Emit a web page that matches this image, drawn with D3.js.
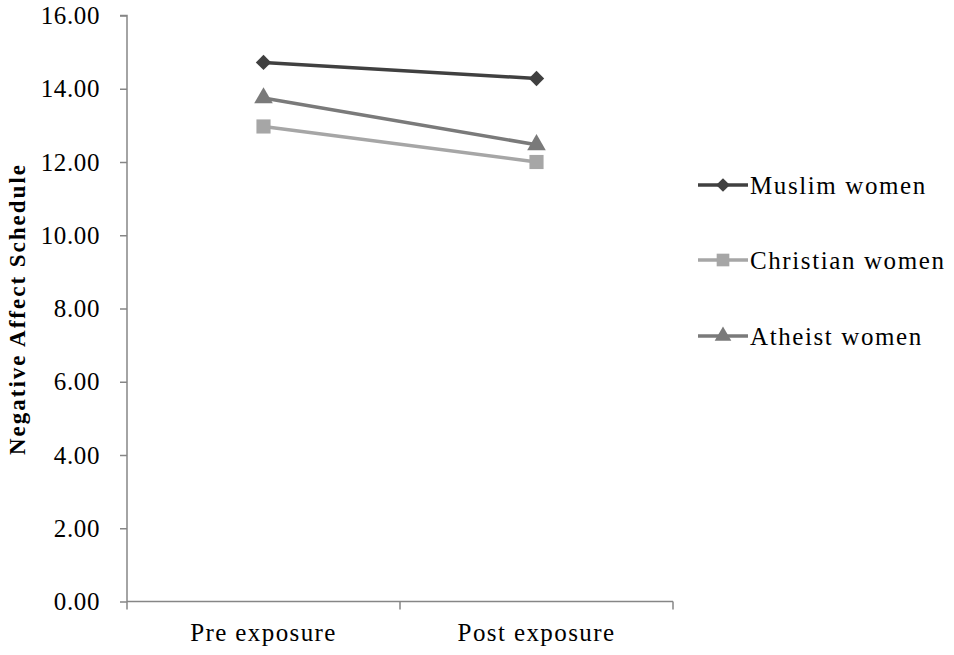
<!DOCTYPE html>
<html><head><meta charset="utf-8">
<script src="https://cdn.jsdelivr.net/npm/d3@7"></script>
<style>body{margin:0;background:#fff}svg{display:block}text{font-family:"Liberation Serif","Times New Roman",serif;fill:#000}</style>
</head><body><svg id="c" width="954" height="655"></svg>
<script>
const categories = ["Pre exposure", "Post exposure"];
const seriesNames = ["Muslim women", "Christian women", "Atheist women"];
const muslim = [14.72, 14.28];
const christian = [12.97, 12.0];
const atheist = [13.75, 12.47];
const yTicks = [0, 2, 4, 6, 8, 10, 12, 14, 16];
const yTitle = "Negative Affect Schedule";

(function () {
const series = [
  {name: seriesNames[0], values: muslim, color: "#404040", sym: d3.symbolDiamond2, size: 150},
  {name: seriesNames[1], values: christian, color: "#a6a6a6", sym: d3.symbolSquare, size: 200},
  {name: seriesNames[2], values: atheist, color: "#7a7a7a", sym: d3.symbolTriangle, size: 150}
];

const svg = d3.select("#c");
const mLeft = 127, mRight = 673, mTop = 15.5, mBottom = 601.5;
const x = d3.scaleBand().domain(categories).range([mLeft, mRight]);
const y = d3.scaleLinear().domain([0, 16]).range([mBottom, mTop]);

const axisColor = "#868686";
const ya = svg.append("g").attr("transform", `translate(${mLeft},0)`)
  .call(d3.axisLeft(y).tickValues(yTicks).tickFormat(d3.format(".2f")).tickSize(7).tickPadding(20));
ya.select(".domain").attr("stroke", axisColor).attr("stroke-width", 1.5).attr("d", `M-7,${mTop}H0V${mBottom}`);
ya.selectAll(".tick line").attr("stroke", axisColor).attr("stroke-width", 1.5);
ya.selectAll(".tick text").attr("font-size", 25).attr("font-family", "Liberation Serif").attr("fill", "#000").attr("letter-spacing", 0.6);

const xa = svg.append("g").attr("transform", `translate(0,${mBottom})`)
  .call(d3.axisBottom(x).tickSize(0).tickPadding(22));
xa.select(".domain").attr("stroke", axisColor).attr("stroke-width", 1.5).attr("d", `M${mLeft},0H${mRight}`);
xa.selectAll(".tick text").attr("font-size", 25).attr("font-family", "Liberation Serif").attr("fill", "#000").attr("letter-spacing", 1.4);
const xt = x.domain().map(d => x(d)).concat([mRight]);
svg.append("g").selectAll("line").data(xt).join("line")
  .attr("x1", d => d).attr("x2", d => d).attr("y1", mBottom).attr("y2", mBottom + 8)
  .attr("stroke", axisColor).attr("stroke-width", 1.5);

svg.append("text").attr("transform", `translate(25,309) rotate(-90)`)
  .attr("text-anchor", "middle").attr("font-size", 23).attr("font-weight", "bold")
  .attr("letter-spacing", 2).text(yTitle);

const line = d3.line().x((d, i) => x(categories[i]) + x.bandwidth() / 2).y(d => y(d));
series.forEach(s => {
  svg.append("path").datum(s.values).attr("d", line).attr("fill", "none")
    .attr("stroke", s.color).attr("stroke-width", 3.5);
  svg.append("g").selectAll("path").data(s.values).join("path")
    .attr("transform", (d, i) => `translate(${x(categories[i]) + x.bandwidth() / 2},${y(d)})`)
    .attr("d", d3.symbol().type(s.sym).size(s.size)).attr("fill", s.color);
});

const legY = [185, 260, 336];
series.forEach((s, i) => {
  const g = svg.append("g").attr("transform", `translate(698,${legY[i]})`);
  g.append("line").attr("x1", 0).attr("x2", 50).attr("stroke", s.color).attr("stroke-width", 3.5);
  g.append("path").attr("transform", "translate(25,0)").attr("d", d3.symbol().type(s.sym).size(s.size * 0.8)).attr("fill", s.color);
  g.append("text").attr("x", 52).attr("dy", "0.35em").attr("font-size", 25).attr("letter-spacing", 1.6).text(s.name);
});
})();
</script></body></html>
